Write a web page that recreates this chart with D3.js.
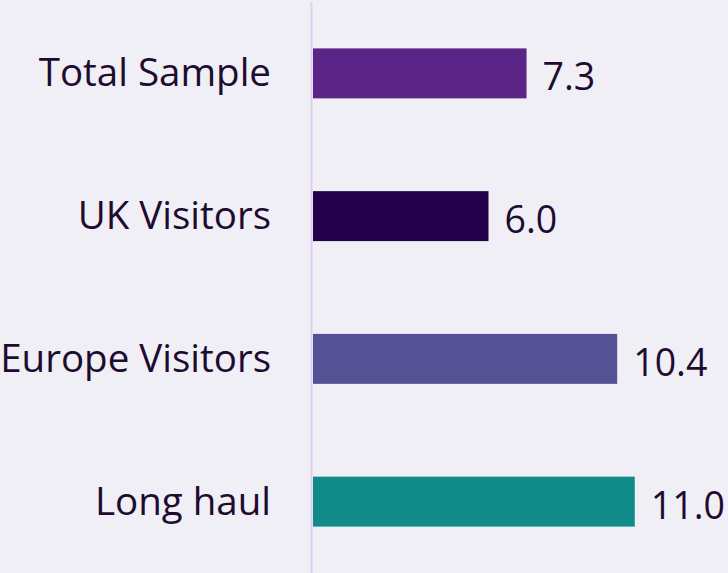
<!DOCTYPE html>
<html>
<head>
<meta charset="utf-8">
<script src="https://cdn.jsdelivr.net/npm/d3@7"></script>
<style>
  body { margin: 0; background: #f0eff5; }
  svg { display: block; font-family: "Open Sans", sans-serif; }
</style>
</head>
<body>
<div id="chart"></div>
<script>
const categories = ["Total Sample", "UK Visitors", "Europe Visitors", "Long haul"];
const values = [7.3, 6.0, 10.4, 11.0];
const colors = ["#5b2487", "#22004a", "#545294", "#118b8a"];

const data = categories.map((c, i) => ({ cat: c, value: values[i], color: colors[i] }));

const width = 728,
      height = 573,
      margin = ({ top: 2, right: 0, bottom: 0, left: 313 });

let svg = d3.select("#chart")
    .append("svg")
    .attr("width", width)
    .attr("height", height);

svg.append("rect")
    .attr("width", width)
    .attr("height", height)
    .attr("fill", "#f0eff5");

let x = d3.scaleLinear()
    .domain([0, 11])
    .range([margin.left, margin.left + 11 * 29.25]);

let y = d3.scaleBand()
    .domain(categories)
    .range([margin.top, height - margin.bottom])
    .paddingInner(0.65)
    .paddingOuter(0.325);

// axis line
svg.append("line")
    .attr("x1", margin.left - 1.5)
    .attr("x2", margin.left - 1.5)
    .attr("y1", margin.top)
    .attr("y2", height)
    .attr("stroke", "#e0cdef")
    .attr("stroke-width", 2);

let bar = svg.selectAll(".bar")
    .data(data)
    .join("g")
    .attr("class", "bar");

bar.append("rect")
    .attr("x", x(0))
    .attr("y", d => y(d.cat))
    .attr("width", d => x(d.value) - x(0))
    .attr("height", y.bandwidth())
    .attr("fill", d => d.color);

// category labels
bar.append("text")
    .text(d => d.cat)
    .attr("x", 271)
    .attr("y", d => y(d.cat) + y.bandwidth() / 2 + 13)
    .attr("text-anchor", "end")
    .style("font-size", "38.5px")
    .style("fill", "#1e0b30");

// value labels
bar.append("text")
    .text(d => d.value.toFixed(1))
    .attr("x", d => x(d.value) + 16)
    .attr("y", d => y(d.cat) + y.bandwidth() / 2 + 17)
    .style("font-size", "37.5px")
    .style("fill", "#1e0b30");
</script>
</body>
</html>
